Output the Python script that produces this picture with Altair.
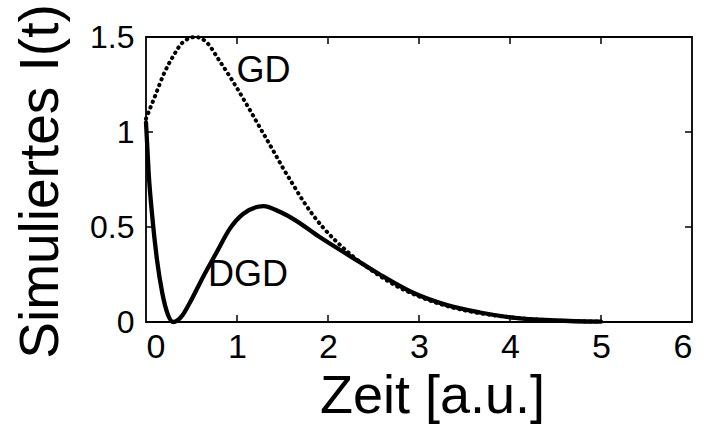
import altair as alt
import pandas as pd

# Simulated intensity curves
gd_t = [0, 0.1, 0.2, 0.3, 0.4, 0.54, 0.67, 0.8, 0.95, 1.1, 1.25, 1.4, 1.5, 1.62,
        1.73, 1.84, 1.95, 2.1, 2.25, 2.5, 2.75, 3.0, 3.3, 3.6, 4.0, 4.5, 5.0]
gd_v = [1.07, 1.19, 1.31, 1.40, 1.47, 1.50, 1.47, 1.38, 1.27, 1.15, 1.025, 0.90,
        0.815, 0.72, 0.635, 0.56, 0.495, 0.42, 0.355, 0.265, 0.19, 0.135, 0.085,
        0.052, 0.025, 0.008, 0.002]

dgd_t = [0, 0.03, 0.07, 0.12, 0.18, 0.24, 0.3, 0.4, 0.48, 0.63, 0.78, 0.92, 1.07,
         1.29, 1.47, 1.66, 1.9, 2.13, 2.3, 2.57, 2.93, 3.3, 3.67, 4.03, 4.5, 5.0]
dgd_v = [1.05, 0.78, 0.55, 0.33, 0.15, 0.04, 0.0, 0.035, 0.10, 0.24, 0.37, 0.49,
         0.57, 0.61, 0.58, 0.53, 0.45, 0.38, 0.33, 0.25, 0.155, 0.09, 0.05, 0.023,
         0.008, 0.002]

x_ticks = [0, 1, 2, 3, 4, 5, 6]
y_ticks = [0, 0.5, 1, 1.5]
inner_x_ticks = [1, 2, 3, 4, 5]
inner_y_ticks = [0.5, 1]

curve_labels = ["GD", "DGD"]
label_t = [1.29, 1.12]
label_v = [1.32, 0.25]

FONT = "Liberation Sans"
W, H = 546, 285

gd = pd.DataFrame({"t": gd_t, "v": gd_v})
dgd = pd.DataFrame({"t": dgd_t, "v": dgd_v})
labels = pd.DataFrame({"name": curve_labels, "t": label_t, "v": label_v})
xt = pd.DataFrame({"t": inner_x_ticks})
yt = pd.DataFrame({"v": inner_y_ticks})

xs = alt.Scale(domain=[0, 6], nice=False, zero=False)
ys = alt.Scale(domain=[0, 1.5], nice=False, zero=False)

x_axis = alt.Axis(values=x_ticks, format="~g", domain=False, ticks=False, grid=False,
                  labelFont=FONT, labelFontSize=34, labelColor="black", labelPadding=8,
                  title="Zeit [a.u.]", titleFont=FONT, titleFontSize=54,
                  titleFontWeight="normal", titleColor="black",
                  titleX=286, titleY=90, titleBaseline="alphabetic", titleAlign="center")
y_axis = alt.Axis(values=y_ticks, format="~g", domain=False, ticks=False, grid=False,
                  labelFont=FONT, labelFontSize=32, labelColor="black", labelPadding=12,
                  title="Simuliertes I(t)", titleFont=FONT, titleFontSize=55,
                  titleFontWeight="normal", titleColor="black",
                  titleX=-89, titleY=144, titleBaseline="alphabetic", titleAlign="center",
                  titleAngle=270)

dgd_line = alt.Chart(dgd).mark_line(color="black", strokeWidth=4.3, interpolate="monotone",
                                    strokeCap="round").encode(
    x=alt.X("t:Q", scale=xs, axis=x_axis),
    y=alt.Y("v:Q", scale=ys, axis=y_axis),
)

gd_line = alt.Chart(gd).mark_line(color="black", strokeWidth=4, interpolate="monotone",
                                  strokeCap="round", strokeDash=[0.5, 5.5]).encode(
    x=alt.X("t:Q", scale=xs),
    y=alt.Y("v:Q", scale=ys),
)

text = alt.Chart(labels).mark_text(font=FONT, fontSize=36, color="black",
                                   align="center", baseline="middle").encode(
    x=alt.X("t:Q", scale=xs),
    y=alt.Y("v:Q", scale=ys),
    text="name:N",
)

TL = 7  # inward tick length in pixels
bottom_ticks = alt.Chart(xt).mark_rule(color="black", strokeWidth=1.5).encode(
    x=alt.X("t:Q", scale=xs), y=alt.value(H), y2=alt.value(H - TL))
top_ticks = alt.Chart(xt).mark_rule(color="black", strokeWidth=1.5).encode(
    x=alt.X("t:Q", scale=xs), y=alt.value(0), y2=alt.value(TL))
left_ticks = alt.Chart(yt).mark_rule(color="black", strokeWidth=1.5).encode(
    y=alt.Y("v:Q", scale=ys), x=alt.value(0), x2=alt.value(TL))
right_ticks = alt.Chart(yt).mark_rule(color="black", strokeWidth=1.5).encode(
    y=alt.Y("v:Q", scale=ys), x=alt.value(W), x2=alt.value(W - TL))

chart = alt.layer(
    dgd_line, gd_line, text, bottom_ticks, top_ticks, left_ticks, right_ticks
).properties(
    width=W, height=H,
    autosize=alt.AutoSizeParams(type="none"),
    padding={"left": 146, "top": 37, "right": 14, "bottom": 112},
    background="white",
).configure_view(
    stroke="black", strokeWidth=1.8, clip=False
)

chart.save("out.html", embed_options={"renderer": "svg", "actions": False})
